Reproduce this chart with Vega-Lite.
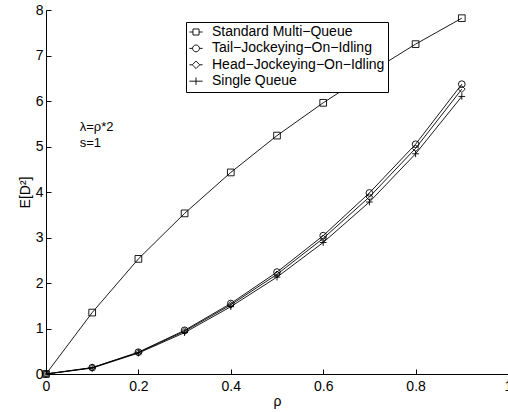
{
  "$schema": "https://vega.github.io/schema/vega-lite/v6.json",
  "autosize": "none",
  "padding": {"left": 46, "top": 10, "right": 0, "bottom": 38},
  "width": 462,
  "height": 364,
  "background": "white",
  "config": {
    "font": "Liberation Sans",
    "view": {"stroke": null},
    "axis": {"grid": false, "domainColor": "black", "tickColor": "black", "labelColor": "black", "titleColor": "black", "labelFontSize": 14, "titleFontSize": 14, "titleFontWeight": "normal", "tickSize": -5, "domainWidth": 1, "tickWidth": 1}
  },
  "datasets": {
    "curves": [
      {"series": "Standard Multi-Queue", "rho": 0, "ED2": 0},
      {"series": "Standard Multi-Queue", "rho": 0.1, "ED2": 1.35},
      {"series": "Standard Multi-Queue", "rho": 0.2, "ED2": 2.53},
      {"series": "Standard Multi-Queue", "rho": 0.3, "ED2": 3.53},
      {"series": "Standard Multi-Queue", "rho": 0.4, "ED2": 4.43},
      {"series": "Standard Multi-Queue", "rho": 0.5, "ED2": 5.24},
      {"series": "Standard Multi-Queue", "rho": 0.6, "ED2": 5.96},
      {"series": "Standard Multi-Queue", "rho": 0.7, "ED2": 6.62},
      {"series": "Standard Multi-Queue", "rho": 0.8, "ED2": 7.25},
      {"series": "Standard Multi-Queue", "rho": 0.9, "ED2": 7.82},
      {"series": "Tail-Jockeying-On-Idling", "rho": 0, "ED2": 0},
      {"series": "Tail-Jockeying-On-Idling", "rho": 0.1, "ED2": 0.14},
      {"series": "Tail-Jockeying-On-Idling", "rho": 0.2, "ED2": 0.48},
      {"series": "Tail-Jockeying-On-Idling", "rho": 0.3, "ED2": 0.96},
      {"series": "Tail-Jockeying-On-Idling", "rho": 0.4, "ED2": 1.55},
      {"series": "Tail-Jockeying-On-Idling", "rho": 0.5, "ED2": 2.24},
      {"series": "Tail-Jockeying-On-Idling", "rho": 0.6, "ED2": 3.04},
      {"series": "Tail-Jockeying-On-Idling", "rho": 0.7, "ED2": 3.98},
      {"series": "Tail-Jockeying-On-Idling", "rho": 0.8, "ED2": 5.05},
      {"series": "Tail-Jockeying-On-Idling", "rho": 0.9, "ED2": 6.37},
      {"series": "Head-Jockeying-On-Idling", "rho": 0, "ED2": 0},
      {"series": "Head-Jockeying-On-Idling", "rho": 0.1, "ED2": 0.14},
      {"series": "Head-Jockeying-On-Idling", "rho": 0.2, "ED2": 0.47},
      {"series": "Head-Jockeying-On-Idling", "rho": 0.3, "ED2": 0.94},
      {"series": "Head-Jockeying-On-Idling", "rho": 0.4, "ED2": 1.52},
      {"series": "Head-Jockeying-On-Idling", "rho": 0.5, "ED2": 2.19},
      {"series": "Head-Jockeying-On-Idling", "rho": 0.6, "ED2": 2.98},
      {"series": "Head-Jockeying-On-Idling", "rho": 0.7, "ED2": 3.89},
      {"series": "Head-Jockeying-On-Idling", "rho": 0.8, "ED2": 4.96},
      {"series": "Head-Jockeying-On-Idling", "rho": 0.9, "ED2": 6.26},
      {"series": "Single Queue", "rho": 0, "ED2": 0},
      {"series": "Single Queue", "rho": 0.1, "ED2": 0.13},
      {"series": "Single Queue", "rho": 0.2, "ED2": 0.46},
      {"series": "Single Queue", "rho": 0.3, "ED2": 0.91},
      {"series": "Single Queue", "rho": 0.4, "ED2": 1.48},
      {"series": "Single Queue", "rho": 0.5, "ED2": 2.13},
      {"series": "Single Queue", "rho": 0.6, "ED2": 2.89},
      {"series": "Single Queue", "rho": 0.7, "ED2": 3.78},
      {"series": "Single Queue", "rho": 0.8, "ED2": 4.84},
      {"series": "Single Queue", "rho": 0.9, "ED2": 6.1}
    ],
    "notes": [
      {"label": "λ=ρ*2", "rho": 0.073, "ED2": 5.43},
      {"label": "s=1", "rho": 0.073, "ED2": 5.08}
    ]
  },
  "resolve": {"scale": {"shape": "independent"}, "legend": {"shape": "independent"}},
  "layer": [
    {
      "data": {"name": "curves"},
      "mark": {"type": "line", "color": "black", "strokeWidth": 0.9},
      "encoding": {
        "x": {"field": "rho", "type": "quantitative", "scale": {"domain": [0, 1], "nice": false}, "axis": {"values": [0, 0.2, 0.4, 0.6, 0.8, 1], "format": "~g", "title": "ρ", "titlePadding": 1, "labelPadding": 10, "labelFlush": false}},
        "y": {"field": "ED2", "type": "quantitative", "scale": {"domain": [0, 8], "nice": false}, "axis": {"values": [0, 1, 2, 3, 4, 5, 6, 7, 8], "format": "~g", "title": "E[D²]", "titlePadding": 3, "labelPadding": 8, "labelFlush": false}},
        "detail": {"field": "series"}
      }
    },
    {
      "data": {"name": "curves"},
      "mark": {"type": "point", "filled": false, "color": "black", "strokeWidth": 0.9, "opacity": 1, "size": 45},
      "encoding": {
        "x": {"field": "rho", "type": "quantitative"},
        "y": {"field": "ED2", "type": "quantitative"},
        "shape": {
          "field": "series", "type": "nominal",
          "scale": {
            "domain": ["Standard Multi-Queue", "Tail-Jockeying-On-Idling", "Head-Jockeying-On-Idling", "Single Queue"],
            "range": ["square", "circle", "diamond", "M-1,0H1M0,-1V1"]
          },
          "legend": null
        }
      }
    },
    {
      "data": {"name": "curves"},
      "mark": {"type": "point", "filled": false, "color": "black", "strokeWidth": 0.9, "opacity": 0},
      "encoding": {
        "x": {"field": "rho", "type": "quantitative"},
        "y": {"field": "ED2", "type": "quantitative"},
        "shape": {
          "field": "series", "type": "nominal",
          "scale": {
            "domain": ["Standard Multi-Queue", "Tail-Jockeying-On-Idling", "Head-Jockeying-On-Idling", "Single Queue"],
            "range": [
              "M-1.2,0H-0.55M0.55,0H1.2M-0.55,-0.55H0.55V0.55H-0.55Z",
              "M-1.2,0H-0.62M0.62,0H1.2M-0.62,0A0.62,0.62,0,1,0,0.62,0A0.62,0.62,0,1,0,-0.62,0Z",
              "M-1.2,0H-0.68M0.68,0H1.2M-0.68,0L0,-0.68L0.68,0L0,0.68Z",
              "M-1.2,0H1.2M0,-0.68V0.68"
            ]
          },
          "legend": {
            "title": null,
            "orient": "none",
            "legendX": 140,
            "legendY": 12,
            "strokeColor": "black",
            "fillColor": "white",
            "padding": 3,
            "rowPadding": 2.4,
            "labelFontSize": 14,
            "labelColor": "black",
            "labelOffset": 9,
            "symbolSize": 121,
            "symbolOpacity": 1,
            "symbolStrokeColor": "black",
            "symbolFillColor": "transparent",
            "symbolStrokeWidth": 0.9,
            "labelLimit": 300,
            "labelExpr": "replace(datum.label, /-/g, '−')"
          }
        }
      }
    },
    {
      "data": {"name": "notes"},
      "mark": {"type": "text", "align": "left", "baseline": "middle", "fontSize": 13, "color": "black"},
      "encoding": {
        "x": {"field": "rho", "type": "quantitative"},
        "y": {"field": "ED2", "type": "quantitative"},
        "text": {"field": "label"}
      }
    }
  ]
}
